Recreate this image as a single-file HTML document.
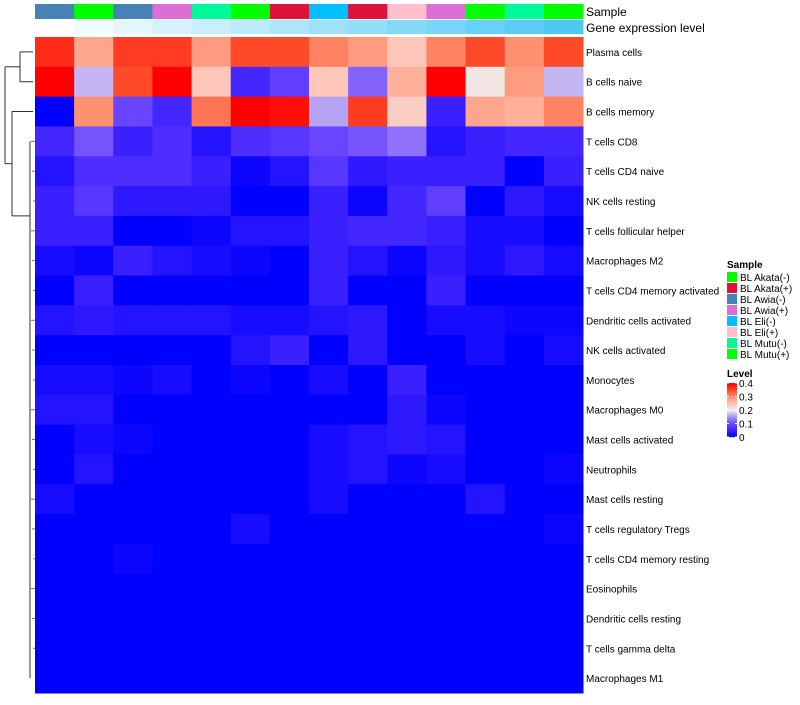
<!DOCTYPE html>
<html><head><meta charset="utf-8"><style>
body{margin:0;background:#fff;font-family:"Liberation Sans",sans-serif}
svg text{font-family:"Liberation Sans",sans-serif}
</style></head><body>
<svg id="chart" width="800" height="700" xmlns="http://www.w3.org/2000/svg">
<g id="dendro" stroke="#333" fill="none" stroke-width="1"></g>
<g id="annot"></g>
<g id="cells"></g>
<g id="labels"></g>
<g id="legend"></g>
</svg>
<script>
const rowNames=["Plasma cells","B cells naive","B cells memory","T cells CD8","T cells CD4 naive","NK cells resting","T cells follicular helper","Macrophages M2","T cells CD4 memory activated","Dendritic cells activated","NK cells activated","Monocytes","Macrophages M0","Mast cells activated","Neutrophils","Mast cells resting","T cells regulatory  Tregs","T cells CD4 memory resting","Eosinophils","Dendritic cells resting","T cells gamma delta","Macrophages M1"];
const sampleCats=["BL Awia(-)","BL Mutu(+)","BL Awia(-)","BL Awia(+)","BL Mutu(-)","BL Mutu(+)","BL Akata(+)","BL Eli(-)","BL Akata(+)","BL Eli(+)","BL Awia(+)","BL Mutu(+)","BL Mutu(-)","BL Mutu(+)"];
const exprLevel=[0,1,2,3,4,5,6,7,8,9,10,11,12,13];
const legendNames=["BL Akata(-)","BL Akata(+)","BL Awia(-)","BL Awia(+)","BL Eli(-)","BL Eli(+)","BL Mutu(-)","BL Mutu(+)"];
const legendColors=["#00ff00","#dc143c","#4682b4","#da70d6","#00bfff","#ffc0cb","#00fa9a","#00ff00"];
const levelTicks=[0,0.1,0.2,0.3,0.4];
const z=[0,0,0,0,0,0,0,0,0,0,0,0,0,0];
const values=[
[0.37,0.28,0.36,0.36,0.29,0.35,0.35,0.31,0.29,0.25,0.31,0.35,0.30,0.35],
[0.40,0.17,0.35,0.40,0.25,0.06,0.09,0.25,0.12,0.27,0.40,0.21,0.29,0.17],
[0.0,0.30,0.10,0.06,0.32,0.40,0.39,0.16,0.36,0.24,0.05,0.28,0.27,0.31],
[0.06,0.11,0.05,0.07,0.03,0.07,0.08,0.10,0.11,0.13,0.03,0.05,0.06,0.06],
[0.03,0.07,0.07,0.07,0.05,0.01,0.03,0.08,0.04,0.05,0.05,0.05,0.0,0.05],
[0.05,0.08,0.04,0.04,0.04,0.0,0.0,0.05,0.01,0.06,0.09,0.0,0.04,0.02],
[0.05,0.05,0.0,0.0,0.01,0.03,0.03,0.05,0.06,0.06,0.05,0.02,0.02,0.0],
[0.02,0.01,0.05,0.03,0.02,0.01,0.0,0.05,0.03,0.01,0.04,0.02,0.04,0.02],
[0,0.05,0,0,0,0,0,0.05,0,0,0.05,0,0,0],
[0.03,0.04,0.03,0.03,0.03,0.02,0.02,0.03,0.04,0,0.02,0.02,0.01,0.01],
[0,0,0,0,0,0.03,0.05,0,0.04,0,0,0.02,0,0.02],
[0.02,0.02,0.01,0.02,0,0.01,0,0.02,0,0.05,0,0,0,0],
[0.03,0.03,0,0,0,0,0,0,0,0.04,0.01,0,0,0],
[0,0.02,0.01,0,0,0,0,0.02,0.03,0.04,0.03,0,0,0],
[0,0.03,0,0,0,0,0,0.02,0.03,0.01,0.02,0,0,0.01],
[0.02,0,0,0,0,0,0,0.02,0,0,0,0.03,0,0],
[0,0,0,0,0,0.02,0,0,0,0,0,0,0,0.01],
[0,0,0.01,0,0,0,0,0,0,0,0,0,0,0],
z,z,z,z];
const sampleColor={"BL Akata(-)":"#00ff00","BL Akata(+)":"#dc143c","BL Awia(-)":"#4682b4","BL Awia(+)":"#da70d6","BL Eli(-)":"#00bfff","BL Eli(+)":"#ffc0cb","BL Mutu(-)":"#00fa9a","BL Mutu(+)":"#00ff00"};
const NS="http://www.w3.org/2000/svg";
const X0=35,X1=583,Y0=37,Y1=693;
const cw=(X1-X0)/sampleCats.length, rh=(Y1-Y0)/rowNames.length;
const xs=i=>X0+i*cw, ys=r=>Y0+r*rh;
const stops=[[0,[0,0,255]],[0.05,[58,31,255]],[0.1,[106,69,255]],[0.15,[168,144,245]],[0.2,[238,238,238]],[0.25,[253,198,184]],[0.3,[255,144,112]],[0.35,[255,74,42]],[0.4,[255,0,0]]];
function col(v){v=Math.max(0,Math.min(0.4,v));for(let i=1;i<stops.length;i++){if(v<=stops[i][0]){const a=stops[i-1],b=stops[i],t=(v-a[0])/(b[0]-a[0]);return "rgb("+a[1].map((c,k)=>Math.round(c+(b[1][k]-c)*t)).join(",")+")";}}return "rgb(255,0,0)";}
function mk(tag,attrs,parent){const e=document.createElementNS(NS,tag);for(const k in attrs)e.setAttribute(k,attrs[k]);parent.appendChild(e);return e;}
const cells=document.getElementById('cells');
values.forEach((row,r)=>row.forEach((v,c)=>{
 const e=mk('rect',{x:xs(c),y:ys(r),width:cw+0.5,height:rh+0.5,fill:col(v)},cells);
 
 
}));
const annot=document.getElementById('annot');
const maxL=Math.max(...exprLevel);
sampleCats.forEach((s,c)=>{
 const e=mk('rect',{x:xs(c),y:4,width:cw+0.5,height:15,fill:sampleColor[s]},annot);
 
 
 const t=exprLevel[c]/maxL;
 const rr=Math.round(255+(78-255)*t),gg=Math.round(255+(200-255)*t),bb=Math.round(255+(245-255)*t);
 const g=mk('rect',{x:xs(c),y:20,width:cw+0.5,height:14,fill:`rgb(${rr},${gg},${bb})`},annot);
 
 
});
let t1=mk('text',{x:586,y:16,'font-size':12},annot);t1.textContent="Sample";


let t2=mk('text',{x:586,y:32,'font-size':12},annot);t2.textContent="Gene expression level";


const labels=document.getElementById('labels');
rowNames.forEach((n,r)=>{
 const e=mk('text',{x:586,y:ys(r)+rh/2+4,'font-size':10},labels);e.textContent=n;
 
 
});
const d=document.getElementById('dendro');
const cy=r=>ys(r)+rh/2;
const m01=(cy(0)+cy(1))/2;
const restTop=cy(3), restMid=(cy(3)+cy(21))/2;
const mRest=cy(3)+ (cy(8)-cy(3))/2;
const mB=(cy(2)+mRest)/2;
const segs=[[20,cy(0),33,cy(0)],[20,cy(1),33,cy(1)],[20,cy(0),20,cy(1)],
[12,cy(2),33,cy(2)],[12,mRest,30,mRest],[12,cy(2),12,mRest],
[5,m01,20,m01],[5,mB,12,mB],[5,m01,5,mB]];
segs.forEach(s=>mk('line',{x1:s[0],y1:s[1],x2:s[2],y2:s[3]},d));
for(let r=3;r<21;r++){mk('line',{x1:31+ (r%3),y1:cy(r),x2:35,y2:cy(r),stroke:'#777'},d);}
mk('line',{x1:30,y1:cy(3),x2:30,y2:cy(21)},d);
const lg=document.getElementById('legend');
let lt=mk('text',{x:727,y:268,'font-size':10,'font-weight':'bold'},lg);lt.textContent="Sample";


legendNames.forEach((n,i)=>{
 const y=272+i*11;
 const r=mk('rect',{x:727,y:y,width:10,height:10,fill:legendColors[i]},lg);
 
 
 const t=mk('text',{x:740,y:y+9,'font-size':10},lg);t.textContent=n;
 
 
});
let lv=mk('text',{x:727,y:377,'font-size':10,'font-weight':'bold'},lg);lv.textContent="Level";


const cbTop=383,cbBot=437;
for(let i=0;i<54;i++){const v=0.4*(1-i/54);mk('rect',{x:727,y:cbTop+i,width:10,height:1.2,fill:col(v)},lg);}
levelTicks.forEach(v=>{
 const y=cbBot-(v/0.4)*(cbBot-cbTop);
 mk('line',{x1:727,y1:y,x2:729,y2:y,stroke:'#fff'},lg);
 mk('line',{x1:735,y1:y,x2:737,y2:y,stroke:'#fff'},lg);
 const t=mk('text',{x:739,y:y+4,'font-size':10},lg);t.textContent=String(v);
 
 
});
</script>
</body></html>
